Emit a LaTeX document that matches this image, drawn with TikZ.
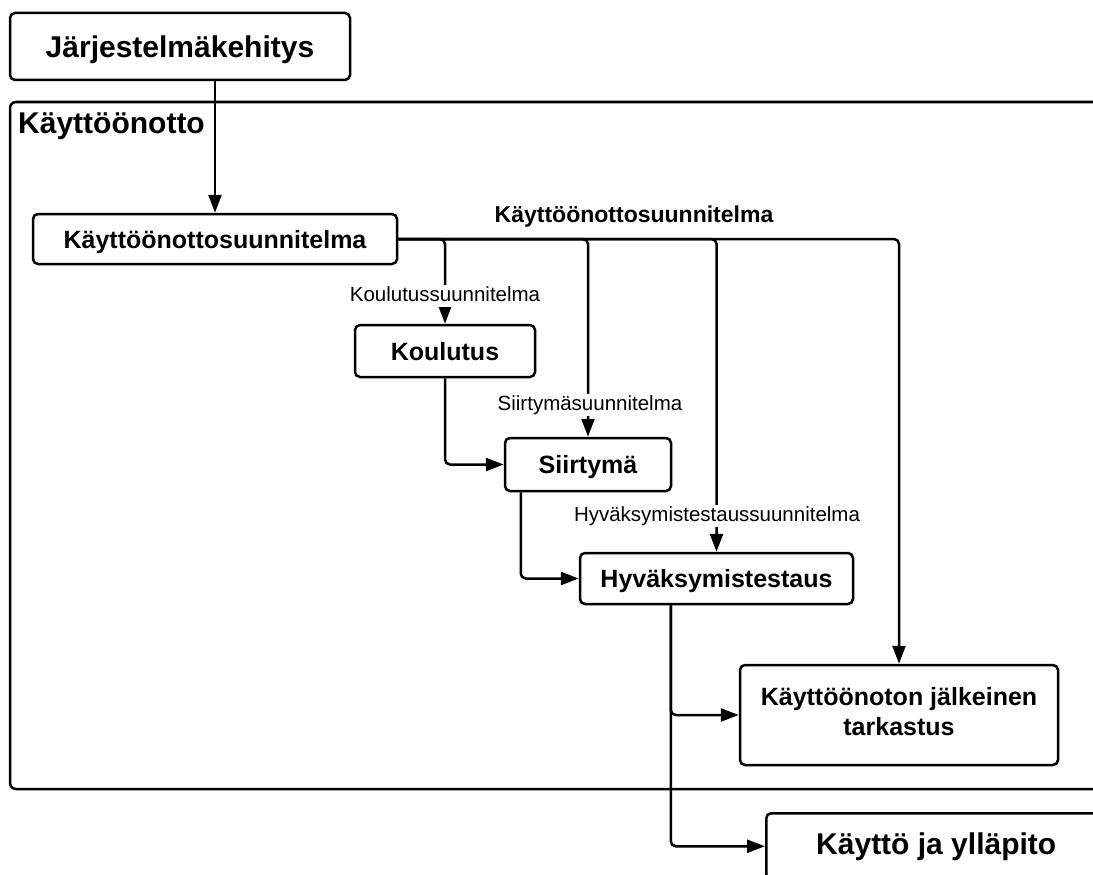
\documentclass[tikz,border=0pt]{standalone}
\usepackage{fontspec}
\setmainfont{Liberation Sans}
\usetikzlibrary{arrows.meta}

\tikzset{
  box/.style={draw, line width=2.5pt, rounded corners=5pt, fill=white, inner sep=0pt,
    font=\bfseries\fontsize{25}{30}\selectfont, text height=18pt, text depth=0pt},
  bigbox/.style={box, font=\bfseries\fontsize{30}{36}\selectfont, text height=21.5pt},
  flow/.style={draw, line width=2.5pt, rounded corners=5pt,
    -{Triangle[length=18pt,width=13pt]}},
  flowlabel/.style={fill=white, inner sep=1.5pt, font=\fontsize{20.5}{24}\selectfont,
    text height=15pt, text depth=4pt},
}

\begin{document}
\begin{tikzpicture}[x=1pt,y=-1pt]
\useasboundingbox (0,0) rectangle (1093,875);
\clip (0,0) rectangle (1093,875);

% phase frame (open to the right)
\node[draw, line width=2.5pt, rounded corners=6pt, minimum width=1100pt,
  minimum height=687pt, inner sep=0pt] (phase) at (560,445.5) {};
\node[anchor=base west, inner sep=0pt, font=\bfseries\fontsize{30}{36}\selectfont]
  (phasename) at (18,133) {Käyttöönotto};

% process boxes
\node[bigbox, minimum width=340pt, minimum height=67pt] (dev) at (180,46.5) {Järjestelmäkehitys};
\node[box, minimum width=364pt, minimum height=50pt] (plan) at (215,239) {Käyttöönottosuunnitelma};
\node[box, minimum width=180pt, minimum height=52pt] (train) at (445,351) {Koulutus};
\node[box, minimum width=166pt, minimum height=53pt] (trans) at (588,464.5) {Siirtymä};
\node[box, minimum width=273pt, minimum height=51pt] (accept) at (716.5,578.5) {Hyväksymistestaus};
\node[box, minimum width=318pt, minimum height=100pt, align=center,
  text height=, text depth=8pt] (review) at (899,715) {Käyttöönoton jälkeinen\\tarkastus};
\node[bigbox, anchor=north west, minimum width=340pt, minimum height=66pt, text depth=5pt]
  (ops) at (765,812) {Käyttö ja ylläpito};

% connectors
\draw[flow] (plan.north |- dev.south) -- (plan.north);
\draw[flow] (plan.east) -| (review.north);
\draw[flow] (plan.east) -| (train.north);
\draw[flow] (plan.east) -| (trans.north);
\draw[flow] (plan.east) -| (accept.north);
\draw[flow] (train.south) |- (trans.west);
\coordinate (transout) at ([xshift=17pt]trans.south west);
\draw[flow] (transout) |- (accept.west);
\coordinate (acceptout) at ([xshift=92pt]accept.south west);
\draw[flow] (acceptout) |- (review.west);
\draw[flow] (acceptout) |- (ops.west);

% connector labels
\node[flowlabel, font=\bfseries\fontsize{23}{28}\selectfont, text height=16.5pt]
  (planlabel) at (634,216) {Käyttöönottosuunnitelma};
\node[flowlabel] (trainlabel) at (445,296) {Koulutussuunnitelma};
\node[flowlabel] (translabel) at (590,405) {Siirtymäsuunnitelma};
\node[flowlabel] (acceptlabel) at (717,516) {Hyväksymistestaussuunnitelma};
\end{tikzpicture}
\end{document}
